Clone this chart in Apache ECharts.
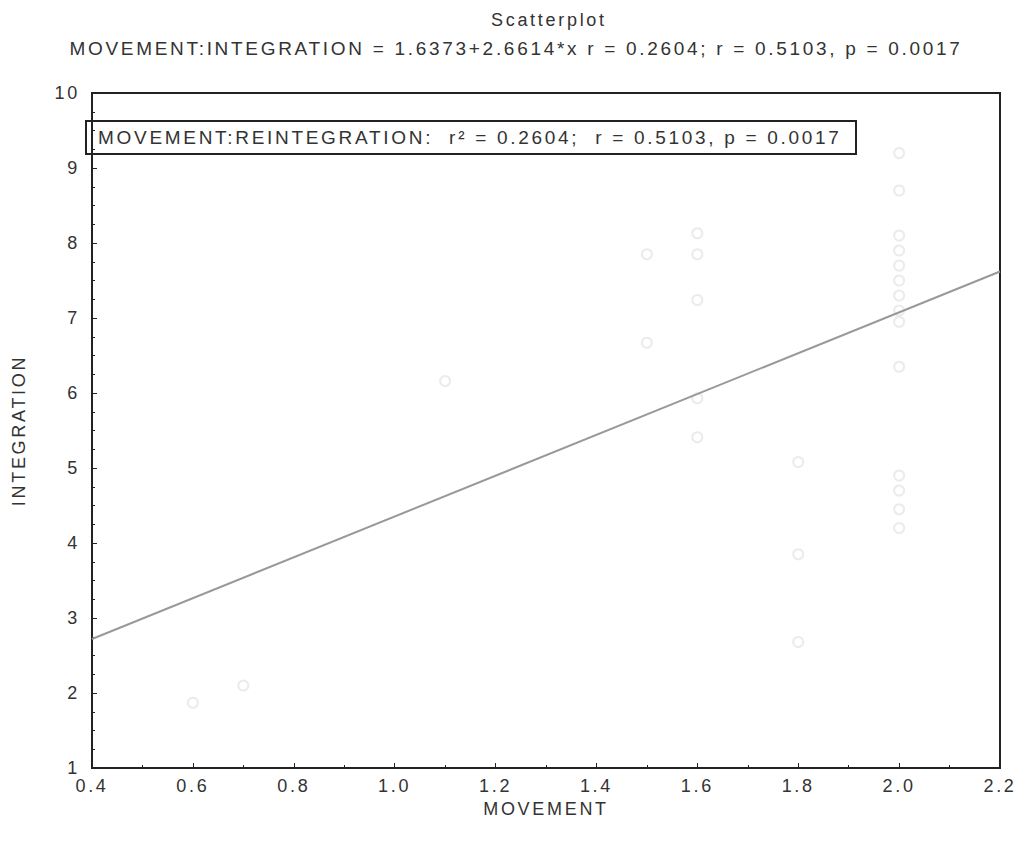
<!DOCTYPE html>
<html>
<head>
<meta charset="utf-8">
<script src="https://cdn.jsdelivr.net/npm/echarts@6/dist/echarts.min.js"></script>
<style>
  html, body { margin: 0; padding: 0; background: #fff; }
  #main { width: 1032px; height: 846px; }
  /* the original print uses widely spaced lettering */
  #main svg text { letter-spacing: 2.7px; }
</style>
</head>
<body>
<div id="main"></div>
<script>
const myChart = echarts.init(document.querySelector('#main'), null, { renderer: 'svg' })

// points (MOVEMENT, INTEGRATION)
const movement = [0.6, 0.7, 1.1, 1.5, 1.5, 1.6, 1.6, 1.6, 1.6, 1.6, 1.8, 1.8, 1.8,
  2.0, 2.0, 2.0, 2.0, 2.0, 2.0, 2.0, 2.0, 2.0, 2.0, 2.0, 2.0, 2.0, 2.0]
const integration = [1.87, 2.1, 6.16, 7.85, 6.67, 8.13, 7.85, 7.24, 5.93, 5.41, 5.08, 3.85, 2.68,
  9.2, 8.7, 8.1, 7.9, 7.7, 7.5, 7.3, 7.1, 6.95, 6.35, 4.9, 4.7, 4.45, 4.2, 3.53]
// fitted line endpoints as drawn
const fitX = [0.4, 2.2]
const fitY = [2.72, 7.62]
const xTicks = ['0.4', '0.6', '0.8', '1.0', '1.2', '1.4', '1.6', '1.8', '2.0', '2.2']

const font = 'Liberation Sans, Arial, sans-serif'
const pts = movement.map((x, i) => [x, integration[i]])

const option = {
  backgroundColor: '#fff',
  textStyle: { fontFamily: font },
  title: [
    {
      text: 'Scatterplot',
      left: 486, top: 6,
      textStyle: { fontSize: 18, fontWeight: 'normal', color: '#333', fontFamily: font }
    },
    {
      text: 'MOVEMENT:INTEGRATION = 1.6373+2.6614*x r = 0.2604; r = 0.5103, p = 0.0017',
      left: 'center', top: 34,
      textStyle: { fontSize: 19, fontWeight: 'normal', color: '#333', fontFamily: font }
    }
  ],
  grid: {
    left: 92, right: 32, top: 93, bottom: 78,
    show: true, borderColor: '#222', borderWidth: 2
  },
  xAxis: {
    type: 'value', min: 0.4, max: 2.2, interval: 0.2,
    name: 'MOVEMENT', nameLocation: 'middle', nameGap: 31,
    nameTextStyle: { fontSize: 18, color: '#333', fontFamily: font },
    axisLine: { lineStyle: { color: '#222', width: 2 } },
    axisTick: { inside: true, length: 5, lineStyle: { color: '#222' } },
    minorTick: { show: true, splitNumber: 2, length: 3, lineStyle: { color: '#222' } },
    splitLine: { show: false },
    axisLabel: {
      fontSize: 18, color: '#333', margin: 9,
      formatter: v => xTicks[Math.round((v - 0.4) / 0.2)] || v.toFixed(1)
    }
  },
  yAxis: {
    type: 'value', min: 1, max: 10, interval: 1,
    name: 'INTEGRATION', nameLocation: 'middle', nameGap: 64, nameRotate: 90,
    nameTextStyle: { fontSize: 18, color: '#333', fontFamily: font },
    axisLine: { lineStyle: { color: '#222', width: 2 } },
    axisTick: { inside: true, length: 5, lineStyle: { color: '#222' } },
    minorTick: { show: true, splitNumber: 4, length: 3, lineStyle: { color: '#222' } },
    splitLine: { show: false },
    axisLabel: { fontSize: 18, color: '#333', margin: 12 }
  },
  series: [
    {
      type: 'scatter',
      data: pts,
      symbol: 'emptyCircle',
      symbolSize: 10,
      itemStyle: { color: '#e6e6e6', borderColor: '#e6e6e6', borderWidth: 1.5 },
      silent: true,
      z: 2
    },
    {
      type: 'line',
      data: fitX.map((x, i) => [x, fitY[i]]),
      symbol: 'none',
      lineStyle: { color: '#999', width: 2 },
      silent: true,
      z: 3
    }
  ],
  graphic: [
    {
      type: 'group', left: 85, top: 120, z: 10,
      children: [
        {
          type: 'rect',
          shape: { x: 0, y: 0, width: 770, height: 33 },
          style: { fill: '#fff', stroke: '#222', lineWidth: 2 }
        },
        {
          type: 'text',
          x: 12, y: 7,
          style: {
            text: 'MOVEMENT:REINTEGRATION:  r² = 0.2604;  r = 0.5103, p = 0.0017',
            fontSize: 19, fill: '#333', fontFamily: font
          }
        }
      ]
    }
  ]
}

myChart.setOption(option)
</script>
</body>
</html>
